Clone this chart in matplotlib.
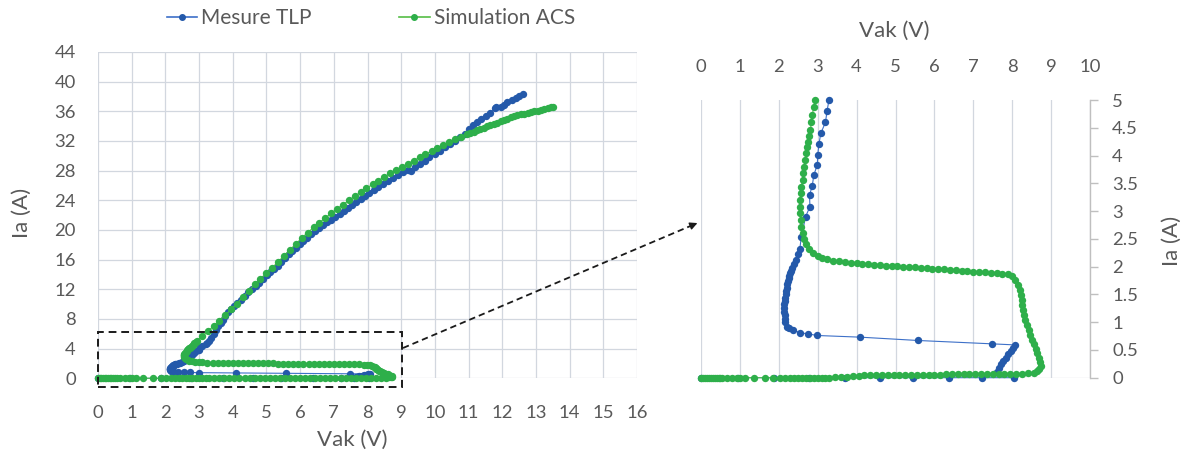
import matplotlib
matplotlib.use("Agg")
import matplotlib.pyplot as plt
from matplotlib.lines import Line2D
from matplotlib.patches import Rectangle, FancyArrowPatch
import numpy as np

plt.rcParams['font.family'] = ['Lato', 'DejaVu Sans']

# ---------------- data ----------------
series_names = ["Mesure TLP", "Simulation ACS"]

# Mesure TLP : Vak (V), Ia (A)
tlp_v_low = [0, 0.94, 1.88, 2.77, 3.71, 4.60, 5.44, 6.38, 7.22, 8.04,
             7.60, 7.65, 7.70, 7.76, 7.83, 7.90, 7.96, 8.02, 8.08,
             7.47, 5.58, 4.09, 2.99, 2.74, 2.54, 2.37, 2.25, 2.20]
tlp_i_low = [0, 0, 0, 0, 0, 0, 0, 0, 0, 0,
             0.10, 0.17, 0.24, 0.30, 0.36, 0.42, 0.48, 0.53, 0.59,
             0.61, 0.67, 0.73, 0.76, 0.79, 0.81, 0.86, 0.89, 0.92]
tlp_v_knee = [2.17, 2.16, 2.15, 2.14, 2.13, 2.14, 2.15, 2.17, 2.18, 2.19, 2.20, 2.22,
              2.24, 2.26, 2.27, 2.29, 2.31, 2.35, 2.40, 2.44, 2.50, 2.54, 2.58,
              2.69, 2.80, 2.79, 2.86, 2.90, 2.99, 3.00, 3.03, 3.08, 3.20, 3.24, 3.29]
tlp_i_knee = [1.00, 1.06, 1.12, 1.19, 1.26, 1.32, 1.38, 1.44, 1.50, 1.56, 1.62, 1.68,
              1.74, 1.79, 1.84, 1.88, 1.92, 1.97, 2.04, 2.12, 2.22, 2.32, 2.54,
              2.90, 3.08, 3.29, 3.45, 3.65, 3.83, 4.01, 4.20, 4.40, 4.60, 4.80, 5.00]
tlp_v_high = [3.36, 3.43, 3.50, 3.57, 3.64, 3.71, 3.78, 3.87, 3.96, 4.05,
              4.13, 4.24, 4.35, 4.46, 4.57, 4.68, 4.79, 4.90, 5.01, 5.12,
              5.22, 5.33, 5.44, 5.55, 5.66, 5.77, 5.88, 5.99, 6.10, 6.21,
              6.33, 6.45, 6.57, 6.68, 6.80, 6.92, 7.04, 7.17, 7.29, 7.42,
              7.55, 7.67, 7.80, 7.93, 8.05, 8.18, 8.31, 8.45, 8.60, 8.75,
              8.90, 9.05, 9.20, 9.30, 9.40, 9.55, 9.70, 9.84, 10.00, 10.15,
              10.30, 10.45, 10.60, 10.75, 10.90, 11.02, 11.13, 11.25, 11.38, 11.53,
              11.65, 11.78, 11.82, 11.95, 12.05, 12.15, 12.28, 12.40, 12.50, 12.63]
tlp_i_high = [5.5, 6.0, 6.5, 7.0, 7.5, 7.9, 8.4, 8.9, 9.4, 9.8,
              10.2, 10.6, 11.1, 11.6, 12.0, 12.4, 12.9, 13.4, 13.9, 14.3,
              14.7, 15.2, 15.7, 16.2, 16.7, 17.1, 17.6, 18.1, 18.5, 18.9,
              19.4, 19.8, 20.3, 20.7, 21.1, 21.4, 21.8, 22.2, 22.6, 23.0,
              23.4, 23.8, 24.2, 24.6, 25.0, 25.4, 25.8, 26.2, 26.6, 27.0,
              27.4, 27.8, 28.1, 28.0, 28.5, 28.9, 29.3, 29.8, 30.2, 30.7,
              31.2, 31.6, 32.0, 32.5, 33.0, 33.6, 34.1, 34.5, 34.9, 35.4,
              35.8, 36.4, 36.6, 36.6, 36.9, 37.2, 37.5, 37.8, 38.1, 38.3]

# Simulation ACS : Vak (V), Ia (A)
acs_v_off = [0.00, 0.05, 0.10, 0.15, 0.20, 0.25, 0.30, 0.35, 0.40, 0.45, 0.50, 0.55,
             0.66, 0.79, 0.92, 1.00, 1.13, 1.35, 1.64, 1.86, 2.03, 2.16, 2.28, 2.40,
             2.50, 2.60, 2.70, 2.80, 2.90, 3.00, 3.10, 3.20, 3.30,
             3.45, 3.60, 3.75, 3.90, 4.05, 4.20, 4.35, 4.50, 4.65, 4.80, 4.95, 5.10,
             5.25, 5.40, 5.55, 5.70, 5.85, 6.00, 6.15, 6.30, 6.45, 6.60, 6.75, 6.90,
             7.05, 7.20, 7.35, 7.50, 7.65, 7.80, 7.95, 8.10, 8.25, 8.40]
acs_i_off = [0] * 33 + [
             0.005, 0.012, 0.020, 0.030, 0.038, 0.045, 0.048, 0.050, 0.050, 0.052, 0.052, 0.053,
             0.054, 0.055, 0.055, 0.056, 0.056, 0.057, 0.057, 0.058, 0.058, 0.059, 0.059, 0.060,
             0.060, 0.061, 0.061, 0.062, 0.062, 0.063, 0.064, 0.066, 0.070, 0.076]
acs_v_turn = [8.55, 8.64, 8.70, 8.73, 8.72, 8.68, 8.64, 8.60, 8.55, 8.50, 8.46, 8.42,
              8.38, 8.34, 8.31, 8.28, 8.26, 8.24, 8.22, 8.19, 8.14, 8.07, 7.99,
              7.90, 7.75, 7.60, 7.45, 7.30, 7.15, 7.00, 6.85, 6.70, 6.55, 6.40, 6.25,
              6.10, 5.95, 5.80, 5.65, 5.50, 5.35, 5.20, 5.05, 4.90, 4.75, 4.60, 4.45,
              4.30, 4.15, 4.00, 3.85, 3.70, 3.55, 3.40, 3.25, 3.10, 3.00]
acs_i_turn = [0.09, 0.12, 0.16, 0.21, 0.28, 0.36, 0.44, 0.52, 0.60, 0.68, 0.77, 0.86,
              0.95, 1.04, 1.13, 1.22, 1.31, 1.40, 1.49, 1.58, 1.67, 1.76, 1.83,
              1.86, 1.87, 1.88, 1.89, 1.895, 1.90, 1.91, 1.92, 1.93, 1.935, 1.945, 1.95,
              1.96, 1.965, 1.97, 1.98, 1.985, 1.995, 2.00, 2.01, 2.015, 2.02, 2.03, 2.035,
              2.045, 2.05, 2.06, 2.07, 2.08, 2.095, 2.11, 2.13, 2.16, 2.19]
acs_v_on = [2.88, 2.78, 2.70, 2.66, 2.62, 2.58, 2.56, 2.55, 2.54, 2.55, 2.56, 2.58,
            2.61, 2.63, 2.65, 2.68, 2.71, 2.73, 2.75, 2.78, 2.81, 2.84, 2.86, 2.90, 2.93,
            3.10, 3.27, 3.44, 3.60, 3.78, 3.95, 4.12, 4.30, 4.47, 4.65,
            4.82, 5.00, 5.17, 5.35, 5.52, 5.70, 5.87, 6.05, 6.22, 6.40,
            6.57, 6.75, 6.92, 7.10, 7.27, 7.45, 7.62, 7.80, 7.97, 8.15,
            8.32, 8.50, 8.67, 8.85, 9.02, 9.20, 9.37, 9.55, 9.72, 9.90,
            10.07, 10.25, 10.42, 10.60, 10.77, 10.95,
            11.05, 11.15, 11.25, 11.35, 11.45, 11.55, 11.65, 11.75, 11.85, 11.95,
            12.05, 12.15, 12.25, 12.35, 12.45, 12.55, 12.65, 12.75, 12.85, 12.95,
            13.05, 13.15, 13.25, 13.35, 13.45, 13.50]
acs_i_on = [2.24, 2.32, 2.40, 2.50, 2.60, 2.72, 2.84, 2.96, 3.08, 3.20, 3.32, 3.44,
            3.56, 3.68, 3.80, 3.92, 4.04, 4.15, 4.25, 4.35, 4.46, 4.60, 4.73, 4.87, 5.00,
            5.69, 6.38, 7.08, 7.77, 8.55, 9.28, 10.08, 10.96, 11.78, 12.66,
            13.41, 14.19, 14.91, 15.74, 16.52, 17.34, 18.11, 18.92, 19.65, 20.34,
            20.98, 21.64, 22.23, 22.86, 23.42, 24.00, 24.54, 25.10, 25.62, 26.17,
            26.65, 27.15, 27.62, 28.07, 28.49, 28.93, 29.35, 29.79, 30.21, 30.64,
            31.05, 31.48, 31.86, 32.22, 32.56, 32.90,
            33.08, 33.27, 33.45, 33.63, 33.80, 33.98, 34.15, 34.32, 34.49, 34.67,
            34.84, 35.01, 35.18, 35.33, 35.47, 35.60, 35.70, 35.80, 35.90, 36.00,
            36.10, 36.20, 36.30, 36.42, 36.53, 36.60]

left_xticks = list(range(0, 17))
left_yticks = list(range(0, 45, 4))
right_xticks = list(range(0, 11))
right_yticks = [0, 0.5, 1, 1.5, 2, 2.5, 3, 3.5, 4, 4.5, 5]
right_ylabels = ["0", "0.5", "1", "1.5", "2", "2.5", "3", "3.5", "4", "4.5", "5"]

tlp_v = np.array(tlp_v_low + tlp_v_knee + tlp_v_high)
tlp_i = np.array(tlp_i_low + tlp_i_knee + tlp_i_high)
acs_v = np.array(acs_v_off + acs_v_turn + acs_v_on)
acs_i = np.array(acs_i_off + acs_i_turn + acs_i_on)
assert len(tlp_v) == len(tlp_i) and len(acs_v) == len(acs_i)

# ---------------- style ----------------
W, H = 1192, 458
TXT = '#595959'
GRID = '#D2D7DF'
BLUE_M, BLUE_L = '#2459AA', '#3D70C8'
GREEN_M, GREEN_L = '#2EAF4A', '#55BE46'
MS = 5.3

fig = plt.figure(figsize=(W / 100, H / 100), dpi=100)

def px_axes(x0, x1, ytop, ybot):
    return fig.add_axes([x0 / W, 1 - ybot / H, (x1 - x0) / W, (ybot - ytop) / H])

def plot_series(ax, mask_tlp=None, mask_acs=None):
    tv, ti, av, ai = tlp_v, tlp_i, acs_v, acs_i
    if mask_tlp is not None:
        tv, ti = tv[mask_tlp], ti[mask_tlp]
        av, ai = av[mask_acs], ai[mask_acs]
    ax.plot(tv, ti, color=BLUE_L, lw=0.8, marker='o', ms=MS, mfc=BLUE_M, mec=BLUE_M,
            mew=0, clip_on=False, zorder=3)
    ax.plot(av, ai, color=GREEN_L, lw=0.8, marker='o', ms=MS, mfc=GREEN_M, mec=GREEN_M,
            mew=0, clip_on=False, zorder=4)

# ---------------- left chart ----------------
ax1 = px_axes(98, 637, 52, 378.3)
ax1.set_xlim(0, 16)
ax1.set_ylim(0, 44)
ax1.set_xticks(left_xticks)
ax1.set_yticks(left_yticks)
ax1.grid(True, color=GRID, lw=0.9)
ax1.set_axisbelow(True)
for s in ax1.spines.values():
    s.set_visible(False)
ax1.tick_params(axis='both', length=0, labelsize=13.3, labelcolor=TXT)
ax1.tick_params(axis='x', pad=19)
ax1.tick_params(axis='y', pad=16)
plot_series(ax1)
fig.text(352 / W, 1 - 440 / H, "Vak (V)", ha='center', va='center', fontsize=16, color=TXT)
fig.text(22 / W, 1 - 213 / H, "Ia (A)", ha='center', va='center', fontsize=16, color=TXT,
         rotation=90)

# zoom rectangle
rect = Rectangle((0, -1.17), 9.01, 6.28 + 1.17, fill=False, ec='#1a1a1a', lw=1.4,
                 ls=(0, (4, 2.5)), clip_on=False, zorder=6)
ax1.add_patch(rect)

# ---------------- right chart ----------------
ax2 = px_axes(701, 1090, 100, 377.7)
ax2.set_xlim(0, 10)
ax2.set_ylim(0, 5)
ax2.xaxis.tick_top()
ax2.yaxis.tick_right()
ax2.set_xticks(right_xticks)
ax2.set_yticks(right_yticks)
ax2.set_yticklabels(right_ylabels)
ax2.set_yticks([1, 2, 3, 4, 5], minor=True)
ax2.grid(True, axis='x', color=GRID, lw=0.9)
ax2.grid(True, axis='y', which='minor', color=GRID, lw=0.9)
ax2.set_axisbelow(True)
for k, s in ax2.spines.items():
    s.set_visible(k == 'right')
ax2.spines['right'].set_color('#BFBFBF')
ax2.spines['right'].set_linewidth(1.0)
ax2.axhline(0, color=GRID, lw=0.9, zorder=0)
ax2.tick_params(axis='x', length=0, labelsize=13.3, labelcolor=TXT, pad=18)
ax2.tick_params(axis='y', which='major', length=5.5, width=1, color='#BFBFBF',
                labelsize=13.3, labelcolor=TXT, pad=10.5)
ax2.tick_params(axis='y', which='minor', length=0)
plot_series(ax2, tlp_i <= 5.0, acs_i <= 5.0)
fig.text(894 / W, 1 - 31 / H, "Vak (V)", ha='center', va='center', fontsize=16, color=TXT)
fig.text(1172 / W, 1 - 241 / H, "Ia (A)", ha='center', va='center', fontsize=16, color=TXT,
         rotation=90)

# dashed arrow from the box to the zoomed chart
x0, y0 = 403 / W, 1 - 348 / H
x1, y1 = 700 / W, 1 - 222 / H
fig.add_artist(Line2D([x0, x1 - 0.006], [y0, y1 - 0.0065], transform=fig.transFigure,
                      color='#1a1a1a', lw=1.3, ls=(0, (3.5, 2.2))))
fig.add_artist(FancyArrowPatch(
    (x1 - 0.009, y1 - 0.0097), (x1, y1), transform=fig.transFigure,
    arrowstyle='-|>', mutation_scale=11, color='#1a1a1a', lw=1.0))

# ---------------- legend ----------------
handles = [Line2D([], [], color=BLUE_L, lw=1.2, marker='o', ms=4, mfc=BLUE_M, mec=BLUE_M),
           Line2D([], [], color=GREEN_L, lw=1.2, marker='o', ms=4, mfc=GREEN_M, mec=GREEN_M)]
fig.legend(handles, series_names, loc='center', bbox_to_anchor=(371 / W, 1 - 18 / H),
           ncol=2, frameon=False, fontsize=15, handlelength=1.45, handletextpad=0.2,
           columnspacing=4.2, labelcolor=TXT)

fig.savefig("out.png", dpi=100)
